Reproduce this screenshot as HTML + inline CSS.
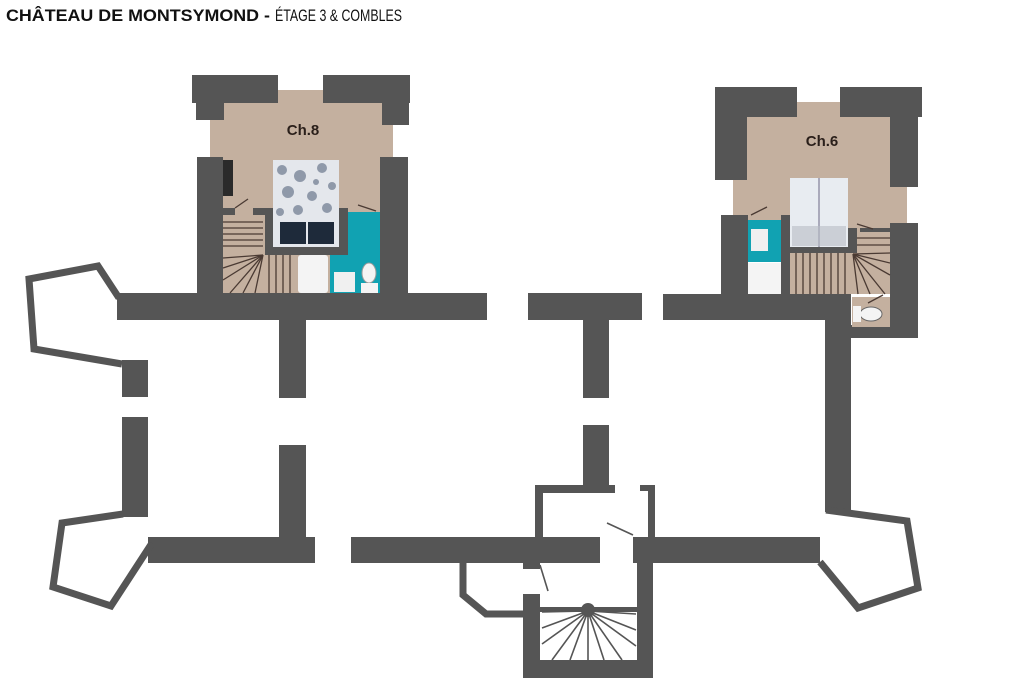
<!DOCTYPE html>
<html><head><meta charset="utf-8"><style>
html,body{margin:0;padding:0;background:#fff;}
svg{display:block}
</style></head><body>
<svg width="1024" height="678" viewBox="0 0 1024 678" xmlns="http://www.w3.org/2000/svg">
<text x="6" y="21" font-family="Liberation Sans, sans-serif" font-size="17" font-weight="bold" fill="#111" textLength="264" lengthAdjust="spacingAndGlyphs">CHÂTEAU DE MONTSYMOND -</text>
<text x="275" y="21" font-family="Liberation Sans, sans-serif" font-size="17" fill="#111" textLength="127" lengthAdjust="spacingAndGlyphs">ÉTAGE 3 &amp; COMBLES</text>

<g fill="#555">
<rect x="117" y="293" width="370" height="27"/>
<rect x="279" y="320" width="27" height="78"/>
<rect x="279" y="445" width="27" height="118"/>
<rect x="148" y="537" width="167" height="26"/>
<rect x="122" y="360" width="26" height="37"/>
<rect x="122" y="417" width="26" height="100"/>
<rect x="528" y="293" width="114" height="27"/>
<rect x="583" y="320" width="26" height="78"/>
<rect x="583" y="425" width="26" height="65"/>
<rect x="535" y="485" width="80" height="8"/>
<rect x="535" y="485" width="8" height="52"/>
<rect x="640" y="485" width="15" height="6"/>
<rect x="648" y="485" width="7" height="52"/>
<rect x="351" y="537" width="249" height="26"/>
<rect x="633" y="537" width="187" height="26"/>
<rect x="523" y="563" width="17" height="6"/>
<rect x="523" y="594" width="17" height="84"/>
<rect x="637" y="563" width="16" height="115"/>
<rect x="523" y="660" width="130" height="18"/>
<rect x="540" y="607" width="97" height="5"/>
<rect x="663" y="294" width="188" height="26"/>
<rect x="825" y="320" width="26" height="192"/>
<rect x="851" y="325" width="67" height="13"/>
<rect x="890" y="223" width="28" height="115"/>
</g>
<g fill="none" stroke="#555" stroke-width="7" stroke-linejoin="miter">
<polyline points="119,298 98,266 29,279 34,349 122,364"/>
<polyline points="123,514 62,523 53,587 111,606 152,543"/>
<polyline points="463,563 463,595 486,614 523,614"/>
<polyline points="826,510 907,521 918,588 858,608 820,562"/>
</g>
<g stroke="#555" stroke-width="1.6">
<line x1="588" y1="611" x2="542" y2="612"/><line x1="588" y1="611" x2="542" y2="628"/>
<line x1="588" y1="611" x2="542" y2="644"/><line x1="588" y1="611" x2="552" y2="660"/>
<line x1="588" y1="611" x2="570" y2="660"/><line x1="588" y1="611" x2="588" y2="660"/>
<line x1="588" y1="611" x2="604" y2="660"/><line x1="588" y1="611" x2="622" y2="660"/>
<line x1="588" y1="611" x2="636" y2="646"/><line x1="588" y1="611" x2="636" y2="630"/>
<line x1="588" y1="611" x2="636" y2="614"/>
<line x1="540" y1="565" x2="548" y2="591"/><line x1="607" y1="523" x2="633" y2="535"/>
</g>
<circle cx="588" cy="610" r="7" fill="#555"/>

<rect x="210" y="90" width="183" height="203" fill="#c4b09f"/>
<g fill="#555">
<rect x="192" y="75" width="86" height="28"/><rect x="196" y="75" width="28" height="45"/>
<rect x="323" y="75" width="87" height="28"/><rect x="382" y="75" width="27" height="50"/>
<rect x="197" y="157" width="26" height="136"/><rect x="380" y="157" width="28" height="136"/>
<rect x="223" y="208" width="12" height="7"/><rect x="253" y="208" width="20" height="7"/>
<rect x="265" y="208" width="8" height="47"/><rect x="265" y="247" width="83" height="8"/>
<rect x="339" y="208" width="9" height="47"/>
</g>
<rect x="223" y="160" width="10" height="36" fill="#2a2a2a"/>
<rect x="273" y="160" width="66" height="87" fill="#e4e7ec"/>
<g fill="#4a5a74" opacity="0.55">
<circle cx="282" cy="170" r="5"/><circle cx="300" cy="176" r="6"/><circle cx="322" cy="168" r="5"/><circle cx="288" cy="192" r="6"/><circle cx="312" cy="196" r="5"/><circle cx="332" cy="186" r="4"/><circle cx="298" cy="210" r="5"/><circle cx="327" cy="208" r="5"/><circle cx="280" cy="212" r="4"/><circle cx="316" cy="182" r="3"/>
</g>
<rect x="280" y="222" width="26" height="22" fill="#1e2a3a"/><rect x="308" y="222" width="26" height="22" fill="#1e2a3a"/>
<rect x="348" y="212" width="32" height="81" fill="#11a2b2"/>
<rect x="330" y="255" width="50" height="38" fill="#11a2b2"/>
<rect x="298" y="255" width="30" height="38" fill="#f4f4f4" rx="3"/>
<rect x="334" y="272" width="21" height="20" fill="#f0f0f0"/>
<ellipse cx="369" cy="273" rx="7" ry="10" fill="#f4f4f4" stroke="#999" stroke-width="1"/>
<rect x="361" y="283" width="17" height="10" fill="#f4f4f4"/>
<g stroke="#4a3a33" stroke-width="1.3">
<line x1="223" y1="222" x2="263" y2="222"/><line x1="223" y1="228" x2="263" y2="228"/><line x1="223" y1="234" x2="263" y2="234"/><line x1="223" y1="240" x2="263" y2="240"/><line x1="223" y1="246" x2="263" y2="246"/>
<line x1="263" y1="255" x2="223" y2="258"/><line x1="263" y1="255" x2="223" y2="268"/><line x1="263" y1="255" x2="223" y2="280"/><line x1="263" y1="255" x2="230" y2="293"/><line x1="263" y1="255" x2="243" y2="293"/><line x1="263" y1="255" x2="255" y2="293"/>
<line x1="269" y1="255" x2="269" y2="293"/><line x1="276" y1="255" x2="276" y2="293"/><line x1="283" y1="255" x2="283" y2="293"/><line x1="290" y1="255" x2="290" y2="293"/>
<line x1="235" y1="208" x2="248" y2="199"/><line x1="358" y1="205" x2="376" y2="211"/>
</g>
<text x="303" y="135" text-anchor="middle" font-family="Liberation Sans, sans-serif" font-weight="bold" font-size="15" fill="#2a1f1a">Ch.8</text>

<rect x="733" y="102" width="174" height="121" fill="#c4b09f"/>
<rect x="790" y="223" width="100" height="71" fill="#c4b09f"/>
<rect x="852" y="297" width="38" height="30" fill="#c4b09f"/>
<g fill="#555">
<rect x="715" y="87" width="82" height="30"/><rect x="715" y="87" width="32" height="93"/>
<rect x="840" y="87" width="82" height="30"/><rect x="890" y="87" width="28" height="100"/>
<rect x="721" y="215" width="27" height="79"/><rect x="781" y="215" width="9" height="79"/>
<rect x="782" y="247" width="75" height="6"/><rect x="848" y="228" width="9" height="25"/>
<rect x="860" y="228" width="30" height="4"/>
</g>
<rect x="790" y="178" width="58" height="69" fill="#e8ecf1"/>
<line x1="819" y1="178" x2="819" y2="247" stroke="#aab" stroke-width="2"/>
<rect x="792" y="226" width="54" height="20" fill="#b8bcc4" opacity="0.6"/>
<rect x="748" y="220" width="33" height="42" fill="#11a2b2"/>
<rect x="751" y="229" width="17" height="22" fill="#f0f0f0"/>
<rect x="748" y="263" width="33" height="31" fill="#f4f4f4"/>
<ellipse cx="871" cy="314" rx="11" ry="7" fill="#f4f4f4" stroke="#666" stroke-width="1"/>
<rect x="853" y="306" width="8" height="16" fill="#f4f4f4"/>
<g stroke="#4a3a33" stroke-width="1.3">
<line x1="796" y1="253" x2="796" y2="294"/><line x1="803" y1="253" x2="803" y2="294"/><line x1="810" y1="253" x2="810" y2="294"/><line x1="817" y1="253" x2="817" y2="294"/><line x1="824" y1="253" x2="824" y2="294"/><line x1="831" y1="253" x2="831" y2="294"/><line x1="838" y1="253" x2="838" y2="294"/><line x1="845" y1="253" x2="845" y2="294"/>
<line x1="857" y1="238" x2="890" y2="238"/><line x1="857" y1="245" x2="890" y2="245"/>
<line x1="853" y1="254" x2="890" y2="253"/><line x1="853" y1="254" x2="890" y2="263"/><line x1="853" y1="254" x2="890" y2="275"/><line x1="853" y1="254" x2="885" y2="294"/><line x1="853" y1="254" x2="870" y2="294"/><line x1="853" y1="254" x2="858" y2="294"/>
<line x1="751" y1="215" x2="767" y2="207"/><line x1="857" y1="224" x2="873" y2="229"/><line x1="868" y1="303" x2="883" y2="295"/>
</g>
<text x="822" y="146" text-anchor="middle" font-family="Liberation Sans, sans-serif" font-weight="bold" font-size="15" fill="#2a1f1a">Ch.6</text>
</svg>
</body></html>
